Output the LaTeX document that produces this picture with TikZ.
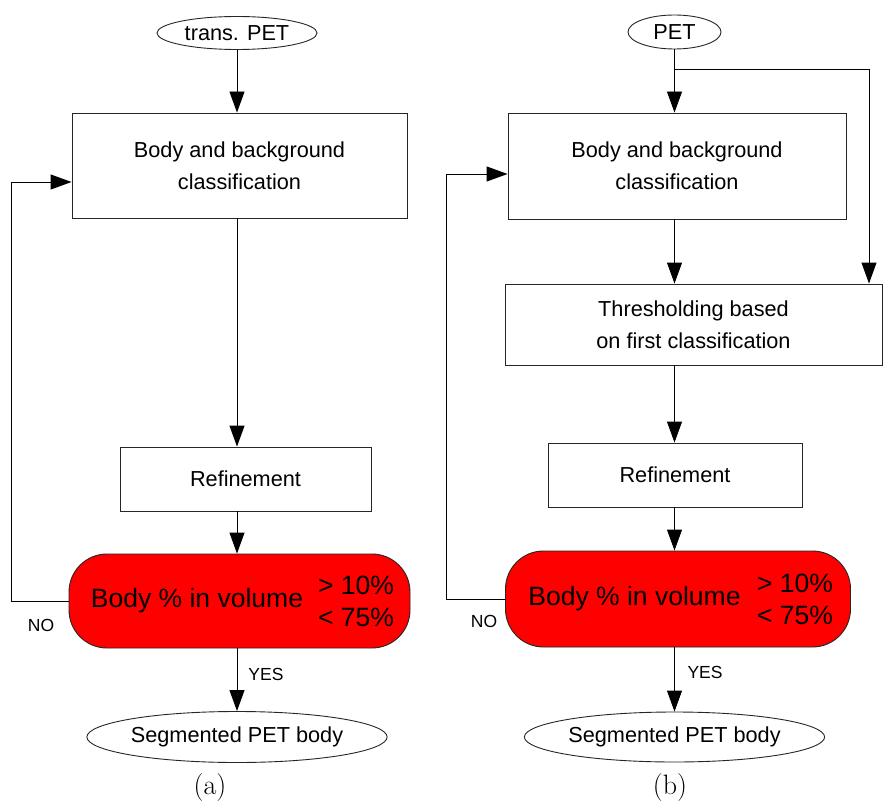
\documentclass[tikz,border=0pt]{standalone}
\usepackage{fontspec}
\setsansfont{Liberation Sans}
\usetikzlibrary{arrows.meta,shapes.geometric}
\begin{document}
\begin{tikzpicture}[x=1pt,y=-1pt,
  line width=0.9pt,
  flow/.style={draw=black!85, fill=white, inner sep=0pt, font=\sffamily\fontsize{21.7}{32}\selectfont, align=center},
  procbox/.style={flow, rectangle},
  term/.style={flow, ellipse},
  decide/.style={draw=black!85, fill=red, inner sep=0pt, rounded corners=38pt},
  dtext/.style={inner sep=0pt, font=\sffamily\fontsize{26.5}{32}\selectfont},
  small/.style={inner sep=0pt, font=\sffamily\fontsize{17.5}{20}\selectfont},
  subcap/.style={inner sep=0pt, font=\rmfamily\fontsize{28}{30}\selectfont},
  arr/.style={draw=black, -{Triangle[length=21pt,width=15pt]}},
  wire/.style={draw=black}
]
\useasboundingbox (0,0) rectangle (883,805);

% ---------- (a) ----------
\node[term, minimum width=160pt, minimum height=33pt] (aIn) at (237,33) {trans. PET};
\node[procbox, minimum width=335pt, minimum height=105pt] (aCls) at (239.5,165.5) {Body and background\\classification};
\node[procbox, minimum width=251pt, minimum height=64pt] (aRef) at (245.5,479) {Refinement};
\node[decide, minimum width=341pt, minimum height=94pt] (aDec) at (239.5,601) {};
\node[dtext] (aDecT) at (197,601) {Body \% in volume};
\node[dtext] (aHi) at (356,585) {> 10\%};
\node[dtext] (aLo) at (356,617) {< 75\%};
\node[term, minimum width=294pt, minimum height=51pt] (aOut) at (237,737) {Segmented PET body};
\node[small] (aNo) at (41,625) {NO};
\node[small] (aYes) at (266,674) {YES};
\node[subcap] (aCap) at (210,788) {(a)};
\coordinate (aL1) at (11,601);
\coordinate (aL2) at (11,182);

\draw[arr] (aIn.south) -- (aCls.north -| aIn.south);
\draw[arr] (aCls.south -| aIn.south) -- (aRef.north -| aIn.south);
\draw[arr] (aRef.south -| aIn.south) -- (aDec.north -| aIn.south);
\draw[arr] (aDec.south -| aIn.south) -- (aOut.north);
\draw[wire] (aDec.west |- aL1) -- (aL1) -- (aL2);
\draw[arr] (aL2) -- (aCls.west |- aL2);

% ---------- (b) ----------
\node[term, minimum width=93pt, minimum height=34pt] (bIn) at (674.5,32) {PET};
\node[procbox, minimum width=338pt, minimum height=106pt] (bCls) at (677,166) {Body and background\\classification};
\node[procbox, minimum width=377pt, minimum height=81pt] (bThr) at (693.5,324.5) {Thresholding based\\on first classification};
\node[procbox, minimum width=254pt, minimum height=64pt] (bRef) at (675,475) {Refinement};
\node[decide, minimum width=345pt, minimum height=96pt] (bDec) at (678,599) {};
\node[dtext] (bDecT) at (634.5,599) {Body \% in volume};
\node[dtext] (bHi) at (795,583) {> 10\%};
\node[dtext] (bLo) at (795,615) {< 75\%};
\node[term, minimum width=297pt, minimum height=50pt] (bOut) at (674.5,737) {Segmented PET body};
\node[small] (bNo) at (484,621) {NO};
\node[small] (bYes) at (705,672) {YES};
\node[subcap] (bCap) at (670,788) {(b)};
\coordinate (bFork) at (674.5,69);
\coordinate (bSide) at (869,69);
\coordinate (bL1) at (446,599);
\coordinate (bL2) at (446,174);

\draw[arr] (bIn.south) -- (bCls.north -| bIn.south);
\draw[wire] (bFork) -- (bSide);
\draw[arr] (bSide) -- (bThr.north -| bSide);
\draw[arr] (bCls.south -| bIn.south) -- (bThr.north -| bIn.south);
\draw[arr] (bThr.south -| bIn.south) -- (bRef.north -| bIn.south);
\draw[arr] (bRef.south -| bIn.south) -- (bDec.north -| bIn.south);
\draw[arr] (bDec.south -| bIn.south) -- (bOut.north);
\draw[wire] (bDec.west |- bL1) -- (bL1) -- (bL2);
\draw[arr] (bL2) -- (bCls.west |- bL2);
\end{tikzpicture}
\end{document}
